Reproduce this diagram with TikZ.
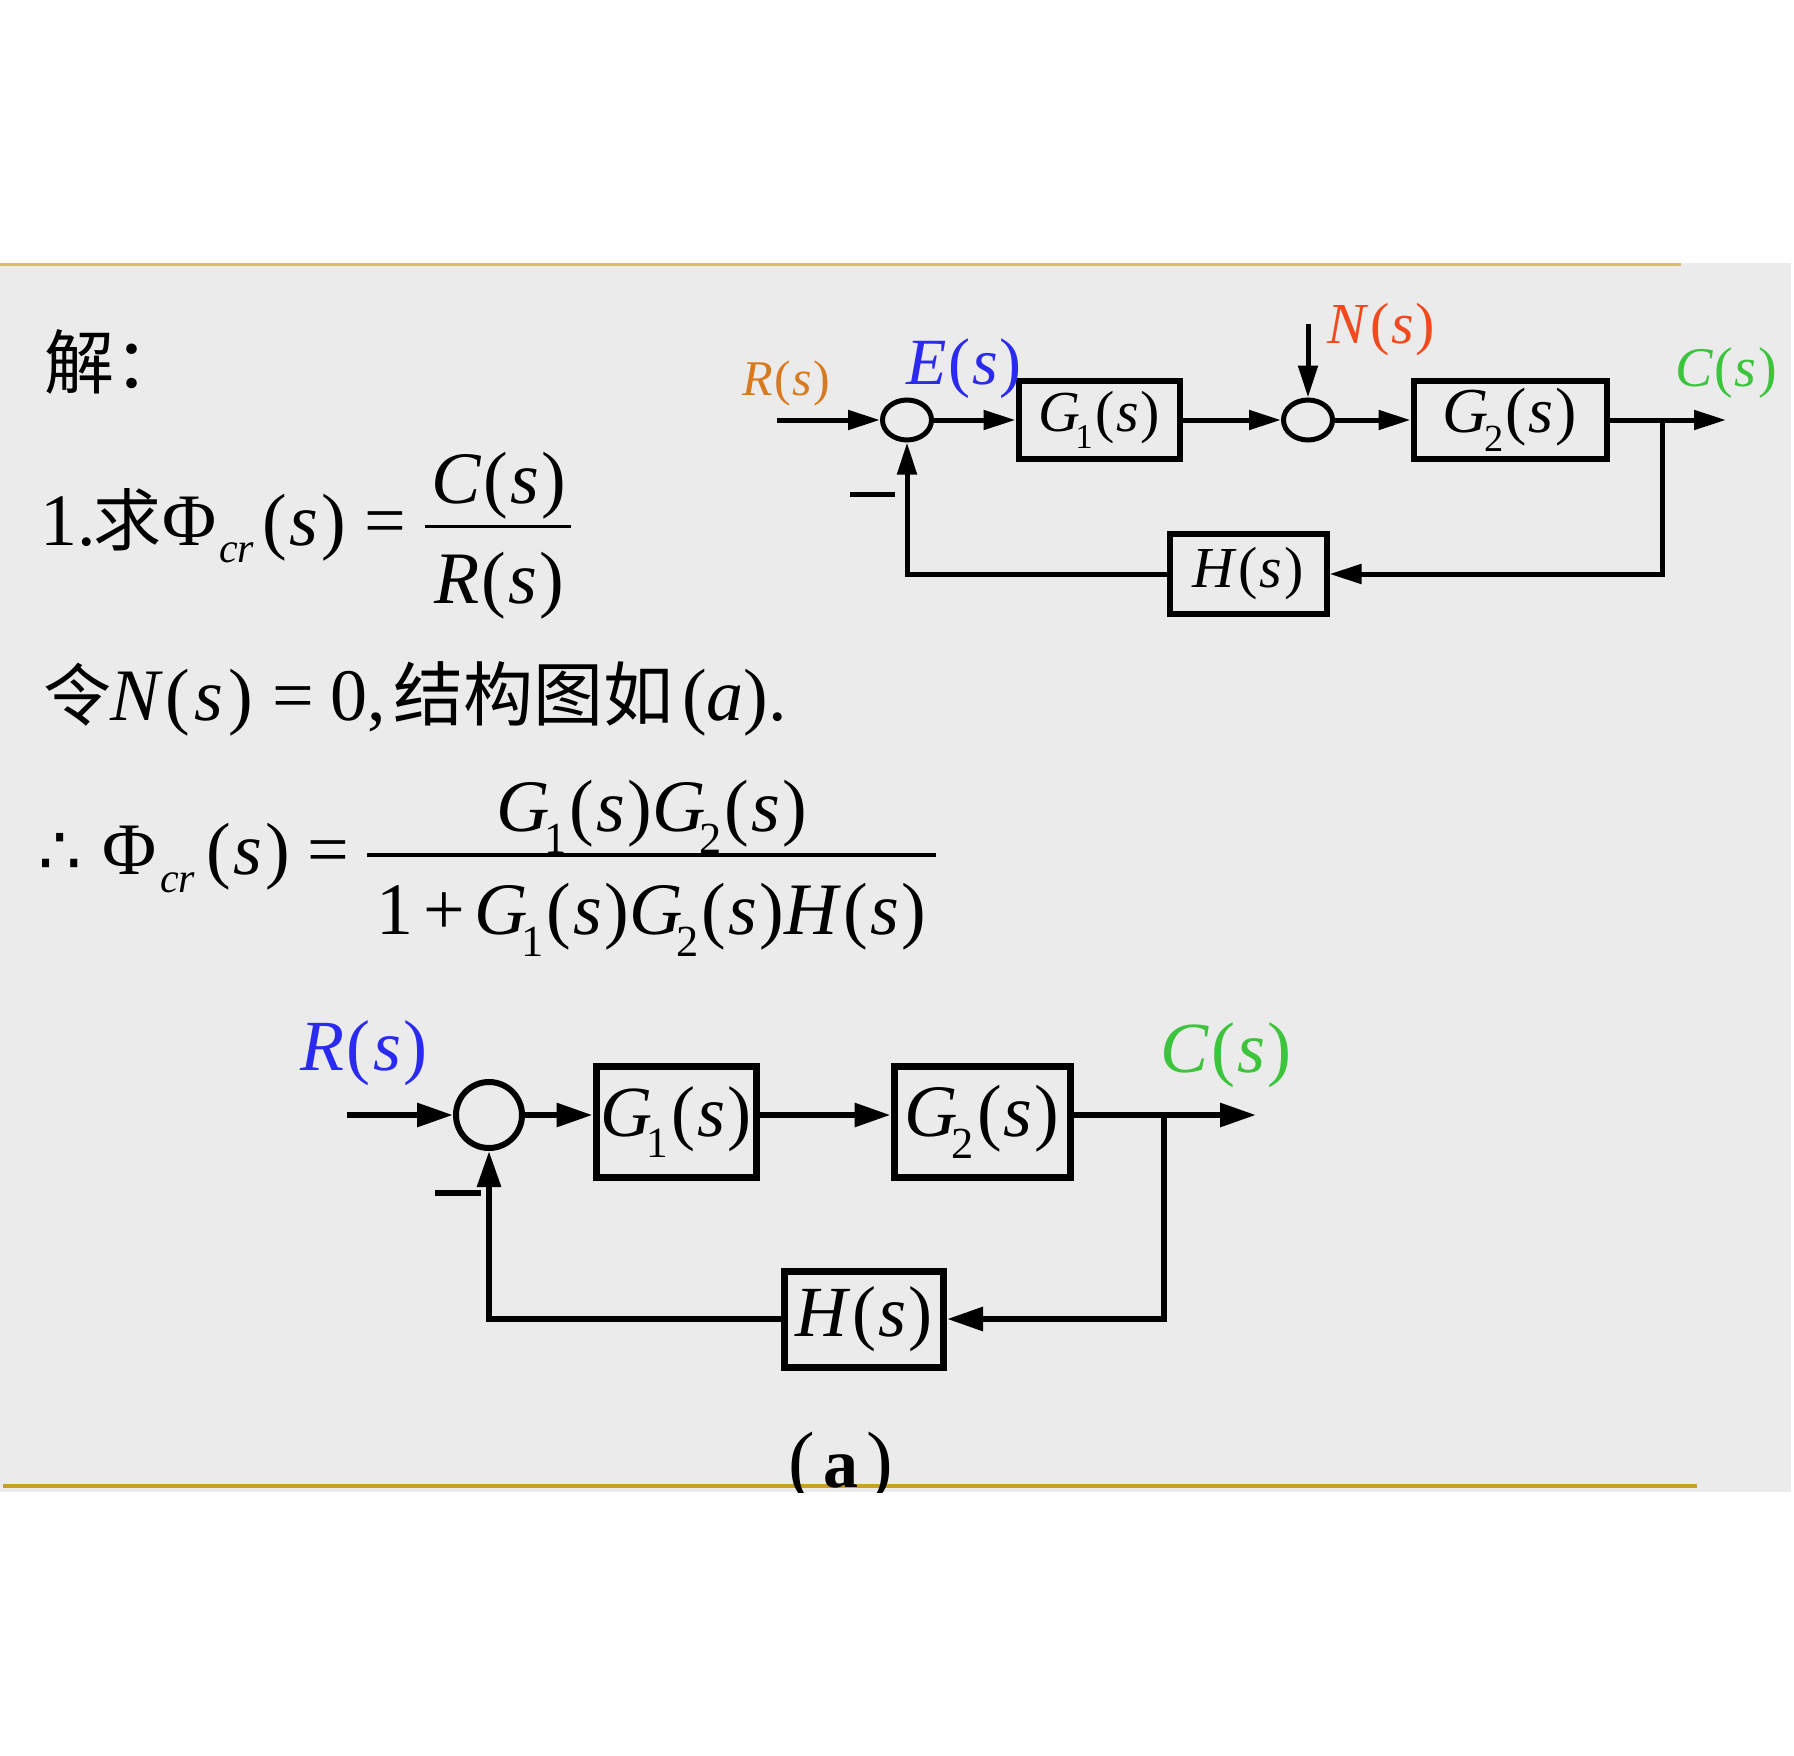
\documentclass[tikz,border=0pt]{standalone}
\usepackage{fontspec}
\usepackage{graphicx}
\setmainfont{Liberation Serif}
\newfontfamily\cjk{Noto Sans CJK SC}
\newfontfamily\dvs{DejaVu Sans}
\usetikzlibrary{arrows.meta,shapes.geometric}
\definecolor{bggray}{HTML}{EBEBEB}
\definecolor{goldtop}{HTML}{DCBD6E}
\definecolor{goldbot}{HTML}{C9A024}
\definecolor{rorange}{HTML}{D97A1E}
\definecolor{eblue}{HTML}{2A2AF0}
\definecolor{nred}{HTML}{F04A1E}
\definecolor{cgreen}{HTML}{3CC43C}
\newcommand\iv[1]{\textit{#1}}
\newcommand\sbs[1]{\raisebox{-0.3em}{\scalebox{0.6}{#1}}}
\newcommand\Gs[1]{\textit{G}\kern-0.08em\sbs{#1}\kern0.04em(\kern0.03em\textit{s}\kern0.03em)}
\newcommand\Xs[1]{\textit{#1}\kern0.03em(\kern0.03em\textit{s}\kern0.03em)}
\begin{document}
\begin{tikzpicture}[x=1pt,y=-1pt,
  fsz/.style={font=\fontsize{#1}{#1}\selectfont},
  txt/.style={inner sep=0pt,outer sep=0pt},
  blockA/.style={draw,line width=6pt,minimum width=161pt,minimum height=78pt,inner sep=0pt,fsz=58},
  blockB/.style={draw,line width=7pt,inner sep=0pt,fsz=72},
  sumA/.style={draw,ellipse,line width=5pt,minimum width=49pt,minimum height=40pt,inner sep=0pt},
  sumB/.style={draw,circle,line width=6pt,minimum size=66pt,inner sep=0pt},
  wireA/.style={line width=5pt},
  wireB/.style={line width=6pt},
  arrA/.style={wireA,-{Triangle[length=32pt,width=19pt]}},
  arrB/.style={wireB,-{Triangle[length=36pt,width=23pt]}},
]
\useasboundingbox (0,0) rectangle (1794,1756);
\fill[white] (0,0) rectangle (1794,1756);
\fill[bggray] (0,263) rectangle (1791,1492);
\draw[goldtop,line width=3pt] (0,264) -- (1681,264);
\draw[goldbot,line width=3.5pt] (3,1486) -- (1697,1486);

% ---------- left text ----------
\node[txt,fsz=70,anchor=base west] (jie) at (44,388) {\cjk 解：};

\node[txt,fsz=74,anchor=base west] (l1a) at (40,545) {1.};
\node[txt,fsz=68,anchor=base west] (l1b) at (93,545) {\cjk 求};
\node[txt,fsz=74,anchor=base west] (l1c) at (162,545) {Φ};
\node[txt,fsz=42,anchor=base west] (l1d) at (219,562) {\iv{cr}};
\node[txt,fsz=74,anchor=base west] (l1e) at (262,545) {(\kern0.04em\iv{s}\kern0.04em)};
\node[txt,fsz=74,anchor=base west] (l1f) at (364,545) {=};
\coordinate (f1l) at (425,526);
\coordinate (f1r) at (571,526);
\draw[line width=3pt] (f1l) -- (f1r);
\node[txt,fsz=74,anchor=base] (l1n) at (499,503) {\Xs{C}};
\node[txt,fsz=74,anchor=base] (l1m) at (499,603) {\Xs{R}};

\node[txt,fsz=68,anchor=base west] (l3a) at (43,720) {\cjk 令};
\node[txt,fsz=74,anchor=base west] (l3b) at (110,720) {\iv{N}\kern0.04em(\kern0.06em\iv{s}\kern0.06em)};
\node[txt,fsz=74,anchor=base west] (l3c) at (272,720) {=};
\node[txt,fsz=74,anchor=base west] (l3d) at (330,720) {0,};
\node[txt,fsz=70,anchor=base west] (l3e) at (393,720) {\cjk 结构图如};
\node[txt,fsz=74,anchor=base west] (l3f) at (682,720) {(\iv{a}).};

\node[txt,fsz=68,anchor=base west] (l4a) at (38,874) {\dvs ∴};
\node[txt,fsz=74,anchor=base west] (l4b) at (102,874) {Φ};
\node[txt,fsz=42,anchor=base west] (l4c) at (160,892) {\iv{cr}};
\node[txt,fsz=74,anchor=base west] (l4d) at (206,874) {(\kern0.04em\iv{s}\kern0.04em)};
\node[txt,fsz=74,anchor=base west] (l4e) at (307,874) {=};
\coordinate (f2l) at (367,855);
\coordinate (f2r) at (936,855);
\draw[line width=3.5pt] (f2l) -- (f2r);
\node[txt,fsz=74,anchor=base] (l4n) at (652,831) {\Gs{1}\Gs{2}};
\node[txt,fsz=74,anchor=base] (l4m) at (651,934) {1\kern0.14em+\kern0.12em\Gs{1}\Gs{2}\Xs{H}};

% ---------- top diagram ----------
\node[sumA] (s1) at (907,420) {};
\node[blockA] (g1) at (1099,420) {\Gs{1}};
\node[sumA] (s2) at (1308,420) {};
\node[blockA,minimum width=193pt,fsz=64] (g2) at (1510,420) {\Gs{2}};
\node[blockA,minimum width=157pt,minimum height=80pt] (h1) at (1248,574) {\Xs{H}};
\coordinate (tin) at (777,420);
\coordinate (nin) at (1308,324);
\coordinate (tbr) at (1662,420);
\coordinate (tout) at (1726,420);
\draw[arrA] (tin) -- (s1.west);
\draw[arrA] (s1.east) -- (g1.west);
\draw[arrA] (g1.east) -- (s2.west);
\draw[arrA] (nin) -- (s2.north);
\draw[arrA] (s2.east) -- (g2.west);
\draw[arrA] (g2.east) -- (tout);
\draw[arrA] (tbr) |- (h1.east);
\draw[arrA] (h1.west) -| (s1.south);
\coordinate (m1a) at (850,494);
\coordinate (m1b) at (895,494);
\draw[wireA] (m1a) -- (m1b);
\node[txt,fsz=50,text=rorange] (tR) at (786,383) {\Xs{R}};
\node[txt,fsz=66,text=eblue] (tE) at (964,369) {\Xs{E}};
\node[txt,fsz=58,text=nred] (tN) at (1381,330) {\Xs{N}};
\node[txt,fsz=56,text=cgreen] (tC) at (1726,373) {\Xs{C}};

% ---------- bottom diagram ----------
\node[sumB] (b1) at (489,1115) {};
\node[blockB,minimum width=160pt,minimum height=111pt] (bg1) at (676,1122) {\Gs{1}};
\node[blockB,minimum width=176pt,minimum height=111pt,fsz=74] (bg2) at (982,1122) {\Gs{2}};
\node[blockB,minimum width=159pt,minimum height=96pt] (bh) at (864,1319) {\Xs{H}};
\coordinate (bin) at (347,1115);
\coordinate (bbr) at (1164,1115);
\coordinate (bout) at (1256,1115);
\draw[arrB] (bin) -- (b1.west);
\draw[arrB] (b1.east) -- (b1.east -| bg1.west);
\draw[arrB] (bg1.east |- b1.center) -- (bg2.west |- b1.center);
\draw[arrB] (bg2.east |- b1.center) -- (bout);
\draw[arrB] (bbr) |- (bh.east);
\draw[arrB] (bh.west) -| (b1.south);
\coordinate (m2a) at (435,1193);
\coordinate (m2b) at (481,1193);
\draw[wireB] (m2a) -- (m2b);
\node[txt,fsz=72,text=eblue] (bR) at (364,1053) {\Xs{R}};
\node[txt,fsz=72,text=cgreen] (bC) at (1226,1055) {\Xs{C}};

\begin{scope}
\clip (0,263) rectangle (1791,1492);
\node[txt,anchor=base] (cap) at (841,1487)
  {\fontsize{80}{80}\selectfont(\kern8pt{\fontsize{70}{70}\selectfont\bfseries a}\kern8pt)};
\end{scope}
\end{tikzpicture}
\end{document}
